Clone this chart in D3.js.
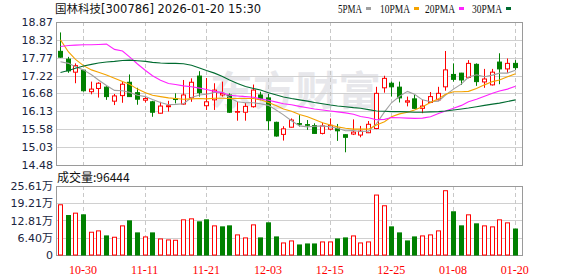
<!DOCTYPE html>
<html>
<head>
<meta charset="utf-8">
<style>
    body { margin: 0; background: #fff; }
    svg text { font-family: "DejaVu Sans", "Noto Sans CJK SC", sans-serif; }
</style>
<script src="https://d3js.org/d3.v7.min.js"></script>
</head>
<body>
<div id="chart"></div>
<script>
var dates = ["10-27","10-28","10-29","10-30","10-31","11-03","11-04","11-05","11-06","11-07",
             "11-10","11-11","11-12","11-13","11-14","11-17","11-18","11-19","11-20","11-21",
             "11-24","11-25","11-26","11-27","11-28","12-01","12-02","12-03","12-04","12-05",
             "12-08","12-09","12-10","12-11","12-12","12-15","12-16","12-17","12-18","12-19",
             "12-22","12-23","12-24","12-25","12-26","12-29","12-30","12-31","01-05","01-06",
             "01-07","01-08","01-09","01-12","01-13","01-14","01-15","01-16","01-19","01-20"];

var open  = [17.97,17.73,17.33,17.39,16.73,16.83,16.87,16.44,16.61,17.02,
             16.70,16.47,16.42,16.07,16.27,16.52,16.35,16.55,17.21,16.30,
             16.48,16.63,16.63,16.10,16.10,16.27,16.63,16.54,15.79,15.42,
             15.64,15.75,15.72,15.69,15.45,15.58,15.60,15.41,15.43,15.40,
             15.47,15.60,16.85,16.99,16.87,16.41,16.51,16.22,16.40,16.48,
             16.88,17.26,17.30,17.17,17.57,17.03,16.94,17.64,17.43,17.60];
var high  = [18.55,17.80,17.60,17.40,17.04,17.02,16.90,16.66,17.04,17.26,
             16.85,16.60,16.45,16.42,16.45,16.68,17.09,17.14,17.36,17.15,
             16.99,17.04,16.68,16.42,16.38,16.95,16.73,16.66,15.81,15.67,
             15.91,16.01,15.86,15.76,15.78,15.91,15.74,15.42,15.88,15.68,
             15.83,16.88,17.22,17.04,17.04,16.58,16.63,16.48,16.72,16.88,
             17.98,17.60,17.31,17.70,17.60,17.43,17.43,17.91,17.75,17.70];
var low   = [17.77,17.31,16.99,16.73,16.65,16.55,16.48,16.32,16.39,16.57,
             16.33,16.40,15.96,16.06,16.12,16.37,16.33,16.42,16.58,16.17,
             16.17,16.58,16.08,15.84,15.84,16.24,16.47,15.55,15.35,15.23,
             15.63,15.66,15.56,15.44,15.42,15.55,15.22,14.87,15.40,15.33,
             15.46,15.58,16.70,16.58,16.40,16.28,16.20,16.07,16.38,16.46,
             16.76,17.04,16.94,17.14,16.91,16.85,16.92,16.96,17.31,17.40];
var close = [17.79,17.37,17.53,16.76,16.81,16.99,16.58,16.60,16.96,16.58,
             16.50,16.52,16.10,16.29,16.30,16.49,16.63,17.02,16.70,16.42,
             16.78,16.68,16.10,16.12,16.28,16.78,16.52,15.84,15.37,15.59,
             15.86,15.73,15.70,15.45,15.68,15.70,15.53,15.33,15.49,15.52,
             15.73,16.68,17.14,16.88,16.54,16.45,16.22,16.29,16.58,16.68,
             17.40,17.11,17.09,17.60,17.04,17.12,17.33,17.43,17.60,17.47];
var prevClose = 17.52;   // close of the day before the first bar (first volume bar is red)

// volume in 万
var volume = [18.64,14.65,15.53,14.91,8.45,8.95,7.08,6.59,10.81,12.67,
              8.20,6.71,8.20,5.96,5.59,5.47,13.05,13.42,12.30,13.05,
              10.81,10.44,10.81,7.46,6.34,11.18,6.34,11.93,6.71,4.47,
              5.22,3.73,4.10,4.10,4.85,4.85,5.96,6.34,7.08,4.47,
              4.85,22.25,18.27,10.44,8.20,5.22,6.71,7.08,7.46,8.95,
              23.86,16.03,10.81,14.91,11.56,10.81,10.44,13.05,11.93,9.6444];

var ma5  = [17.65,17.60,17.50,17.40,17.25,17.09,16.92,16.77,16.76,16.71,
            16.62,16.58,16.49,16.40,16.33,16.34,16.36,16.55,16.63,16.65,
            16.71,16.72,16.54,16.42,16.39,16.39,16.36,16.31,16.16,16.02,
            15.84,15.68,15.65,15.67,15.68,15.65,15.61,15.53,15.54,15.51,
            15.52,15.75,16.11,16.39,16.59,16.74,16.65,16.48,16.42,16.44,
            16.63,16.81,16.97,17.18,17.25,17.19,17.24,17.30,17.30,17.39];
var ma10 = [18.32,17.95,17.72,17.53,17.40,17.33,17.24,17.14,17.04,16.96,
            16.81,16.70,16.62,16.58,16.54,16.52,16.50,16.51,16.52,16.51,
            16.53,16.53,16.52,16.52,16.52,16.52,16.48,16.40,16.30,16.20,
            16.13,16.03,15.96,15.88,15.78,15.71,15.65,15.61,15.58,15.58,
            15.58,15.71,15.81,15.96,16.05,16.10,16.17,16.27,16.40,16.51,
            16.65,16.73,16.73,16.74,16.83,16.94,17.04,17.09,17.19,17.28];
var ma20 = [18.12,18.15,18.16,18.17,18.17,18.18,18.19,18.03,17.98,17.80,
            17.58,17.38,17.22,17.08,16.98,16.95,16.91,16.88,16.84,16.80,
            16.74,16.70,16.62,16.60,16.58,16.56,16.51,16.47,16.41,16.36,
            16.33,16.28,16.24,16.20,16.17,16.14,16.11,16.08,16.04,15.97,
            15.93,15.87,15.88,15.94,15.93,15.92,15.91,15.92,15.96,16.06,
            16.14,16.22,16.31,16.42,16.50,16.59,16.68,16.75,16.81,16.90];
var ma30 = [17.32,17.38,17.45,17.52,17.57,17.61,17.64,17.66,17.69,17.70,
            17.68,17.66,17.63,17.61,17.60,17.60,17.59,17.54,17.46,17.38,
            17.30,17.20,17.09,16.98,16.89,16.83,16.78,16.70,16.63,16.57,
            16.52,16.48,16.44,16.40,16.36,16.32,16.29,16.27,16.24,16.22,
            16.18,16.14,16.13,16.12,16.12,16.11,16.10,16.10,16.11,16.12,
            16.14,16.17,16.20,16.23,16.27,16.31,16.35,16.38,16.43,16.48];

var priceTicks = [18.87,18.32,17.77,17.22,16.68,16.13,15.58,15.03,14.48];
var volTicks = [25.61,19.21,12.81,6.40,0];
var xTickLabels = ["10-30","11-11","11-21","12-03","12-15","12-25","01-08","01-20"];

var maSeries = [
    { name: "5PMA",  values: ma5,  color: "#a0a0a0" },
    { name: "10PMA", values: ma10, color: "#f4a300" },
    { name: "20PMA", values: ma20, color: "#ff22ff" },
    { name: "30PMA", values: ma30, color: "#006b30" }
];

var width = 578, height = 276;
var left = 56, right = 522;
var pTop = 22, pBottom = 165, vTop = 186, vBottom = 255;
var RED = "#ff0000", GREEN = "#008000";

var svg = d3.select("#chart").append("svg")
    .attr("width", width)
    .attr("height", height);

var x = d3.scaleBand().domain(d3.range(dates.length)).range([left, 518.5]);
var cx = function(i) { return Math.round(x(i) + x.bandwidth() / 2) + 0.5; };
var y = d3.scaleLinear().domain([14.48, 18.87]).range([pBottom, pTop]);
var yv = d3.scaleLinear().domain([0, 25.61]).range([vBottom, vTop]);

var labelIdx = xTickLabels.map(function(l) { return dates.indexOf(l); });

// watermark
svg.append("text")
    .attr("x", 210).attr("y", 105)
    .attr("textLength", 171).attr("lengthAdjust", "spacingAndGlyphs")
    .style("font-family", "'Noto Sans CJK SC'")
    .style("font-size", "40px").style("font-weight", "bold")
    .attr("fill", "#e7e7eb")
    .text("东方财富");

// grid
svg.selectAll(".hgrid").data(priceTicks.slice(1, -1)).enter().append("line")
    .attr("x1", left).attr("x2", right)
    .attr("y1", function(d) { return Math.round(y(d)) + 0.5; })
    .attr("y2", function(d) { return Math.round(y(d)) + 0.5; })
    .attr("stroke", "#d0d0d0");
svg.selectAll(".vhgrid").data(volTicks.slice(1, -1)).enter().append("line")
    .attr("x1", left).attr("x2", right)
    .attr("y1", function(d) { return Math.round(yv(d)) + 0.5; })
    .attr("y2", function(d) { return Math.round(yv(d)) + 0.5; })
    .attr("stroke", "#d0d0d0");
[[pTop, pBottom], [vTop, vBottom]].forEach(function(p) {
    svg.selectAll(null).data(labelIdx).enter().append("line")
        .attr("x1", cx).attr("x2", cx)
        .attr("y1", p[0]).attr("y2", p[1])
        .attr("stroke", "#c8c8c8")
        .attr("stroke-dasharray", "4,3");
});

// frames
[[pTop, pBottom], [vTop, vBottom]].forEach(function(p) {
    svg.append("rect")
        .attr("x", left + 0.5).attr("y", p[0] + 0.5)
        .attr("width", right - left).attr("height", p[1] - p[0])
        .attr("fill", "none").attr("stroke", "#9a9a9a");
});

// candles
var candle = svg.selectAll(".candle").data(d3.range(dates.length)).enter()
    .append("g").attr("class", "candle");
candle.append("line")
    .attr("x1", cx).attr("x2", cx)
    .attr("y1", function(i) { return y(high[i]); })
    .attr("y2", function(i) { return y(low[i]); })
    .attr("stroke", function(i) { return close[i] >= open[i] ? RED : GREEN; });
candle.append("rect")
    .attr("x", function(i) { return cx(i) - 2; })
    .attr("width", 4)
    .attr("y", function(i) { return y(Math.max(open[i], close[i])); })
    .attr("height", function(i) { return Math.max(0.01, Math.abs(y(open[i]) - y(close[i]))); })
    .attr("fill", function(i) { return close[i] >= open[i] ? "#fff" : GREEN; })
    .attr("stroke", function(i) { return close[i] >= open[i] ? RED : GREEN; });

// moving averages
maSeries.forEach(function(s) {
    var line = d3.line()
        .x(function(d, i) { return cx(i); })
        .y(function(d) { return y(d); });
    svg.append("path")
        .attr("d", line(s.values))
        .attr("fill", "none")
        .attr("stroke", s.color)
        .attr("stroke-width", 1.1);
});

// volume bars
svg.selectAll(".vol").data(d3.range(dates.length)).enter().append("rect")
    .attr("x", function(i) { return cx(i) - 2; })
    .attr("width", 4)
    .attr("y", function(i) { return yv(volume[i]); })
    .attr("height", function(i) { return vBottom - yv(volume[i]); })
    .attr("fill", function(i) {
        var pc = i === 0 ? prevClose : close[i - 1];
        return close[i] >= pc ? "#fff" : GREEN;
    })
    .attr("stroke", function(i) {
        var pc = i === 0 ? prevClose : close[i - 1];
        return close[i] >= pc ? RED : GREEN;
    });

// axes
var yAxis = svg.append("g")
    .attr("transform", "translate(" + (left - 3) + ",0)")
    .call(d3.axisLeft(y).tickValues(priceTicks).tickSize(0).tickPadding(0)
        .tickFormat(function(d) { return d.toFixed(2); }));
var vAxis = svg.append("g")
    .attr("transform", "translate(" + (left - 3) + ",0)")
    .call(d3.axisLeft(yv).tickValues(volTicks).tickSize(0).tickPadding(0)
        .tickFormat(function(d) { return d === 0 ? "0" : d.toFixed(2) + "万"; }));
[yAxis, vAxis].forEach(function(g) {
    g.select(".domain").remove();
    g.selectAll("text")
        .style("font-family", "'DejaVu Sans','Noto Sans CJK SC'")
        .style("font-size", "11px")
        .attr("fill", "#1a2440");
});

var xAxis = svg.append("g")
    .attr("transform", "translate(0," + vBottom + ")")
    .call(d3.axisBottom(x).tickValues(labelIdx).tickSize(0).tickPadding(10)
        .tickFormat(function(i) { return dates[i]; }));
xAxis.select(".domain").remove();
xAxis.selectAll("text")
    .style("font-family", "'Liberation Serif'")
    .style("font-size", "12px")
    .attr("fill", RED);

// title and legend
svg.append("text")
    .attr("x", 55).attr("y", 13)
    .style("font-size", "11.5px")
    .attr("fill", "#111")
    .text("国林科技[300786] 2026-01-20 15:30");

var legendX = [338, 380, 425, 472];
var legendW = [24, 30, 30, 30];
var leg = svg.selectAll(".legend").data(maSeries).enter().append("g")
    .attr("transform", function(d, i) { return "translate(" + legendX[i] + ",0)"; });
leg.append("text")
    .attr("y", 12.5)
    .attr("textLength", function(d, i) { return legendW[i]; })
    .attr("lengthAdjust", "spacingAndGlyphs")
    .style("font-family", "'Liberation Serif'")
    .style("font-size", "12px")
    .attr("fill", "#111")
    .text(function(d) { return d.name; });
leg.append("rect")
    .attr("x", function(d, i) { return legendW[i] + 4; })
    .attr("y", 7).attr("width", 5).attr("height", 3)
    .attr("fill", function(d) { return d.color; });

svg.append("text")
    .attr("x", 57).attr("y", 182)
    .style("font-family", "'Noto Sans CJK SC'")
    .style("font-size", "12px")
    .attr("fill", "#111")
    .text("成交量:" + Math.round(volume[volume.length - 1] * 10000));
</script>
</body>
</html>
